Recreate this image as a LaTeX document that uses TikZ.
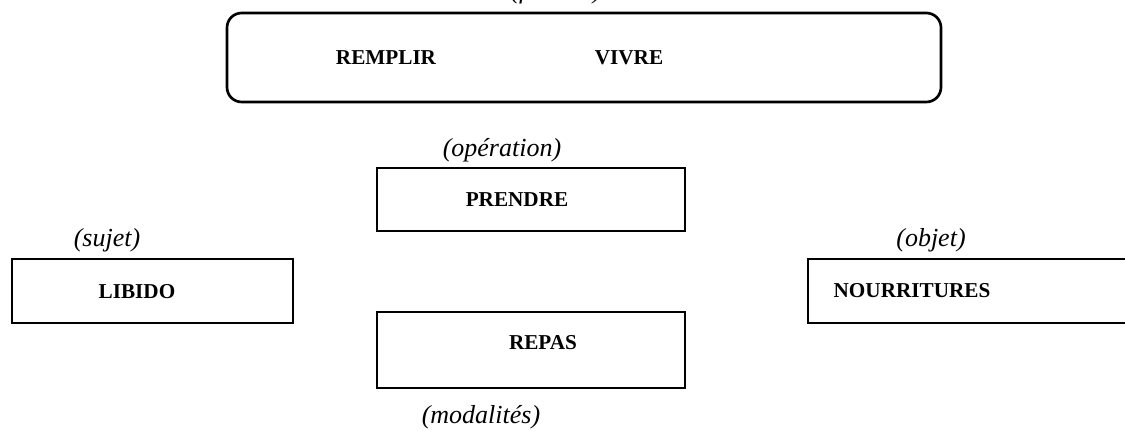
\documentclass[tikz,border=0pt]{standalone}
\usepackage{fontspec}
\setmainfont{Liberation Serif}

\begin{document}
\begin{tikzpicture}[
  x=0.75pt, y=-0.75pt,
  boite/.style={draw=black, line width=2pt, inner sep=0pt},
  cadre/.style={boite, rounded corners=11pt},
  mot/.style={font=\fontsize{15.9}{18}\selectfont\bfseries, inner sep=0pt},
  role/.style={font=\fontsize{19.5}{22}\selectfont\itshape, inner sep=0pt}
]
  \useasboundingbox (0,0) rectangle (1125,431);
  \clip (0,0) rectangle (1125,431);

  % finalite, cut by the top edge
  \node[role, anchor=base] (finalite) at (556,-1) {(finalité)};
  \node[cadre, minimum width=535.5pt, minimum height=66.75pt] (but) at (584,57.5) {};
  \node[mot] (remplir) at (386,58) {REMPLIR};
  \node[mot] (vivre) at (629,58) {VIVRE};

  % operation
  \node[role] (operation) at (502,150) {(opération)};
  \node[boite, minimum width=231pt, minimum height=47.25pt] (prendre) at (531,199.5) {};
  \node[mot] (prendretxt) at (517,200) {PRENDRE};

  % sujet
  \node[role] (sujet) at (107,240) {(sujet)};
  \node[boite, minimum width=210.75pt, minimum height=48pt] (libido) at (152.5,291) {};
  \node[mot] (libidotxt) at (137,292) {LIBIDO};

  % objet
  \node[role] (objet) at (931,240) {(objet)};
  \node[boite, minimum width=252.75pt, minimum height=48pt] (nourritures) at (976.5,291) {};
  \node[mot] (nourriturestxt) at (912,291) {NOURRITURES};

  % modalites
  \node[boite, minimum width=231pt, minimum height=57pt] (repas) at (531,350) {};
  \node[mot] (repastxt) at (543,343) {REPAS};
  \node[role] (modalites) at (481,417) {(modalités)};
\end{tikzpicture}
\end{document}
